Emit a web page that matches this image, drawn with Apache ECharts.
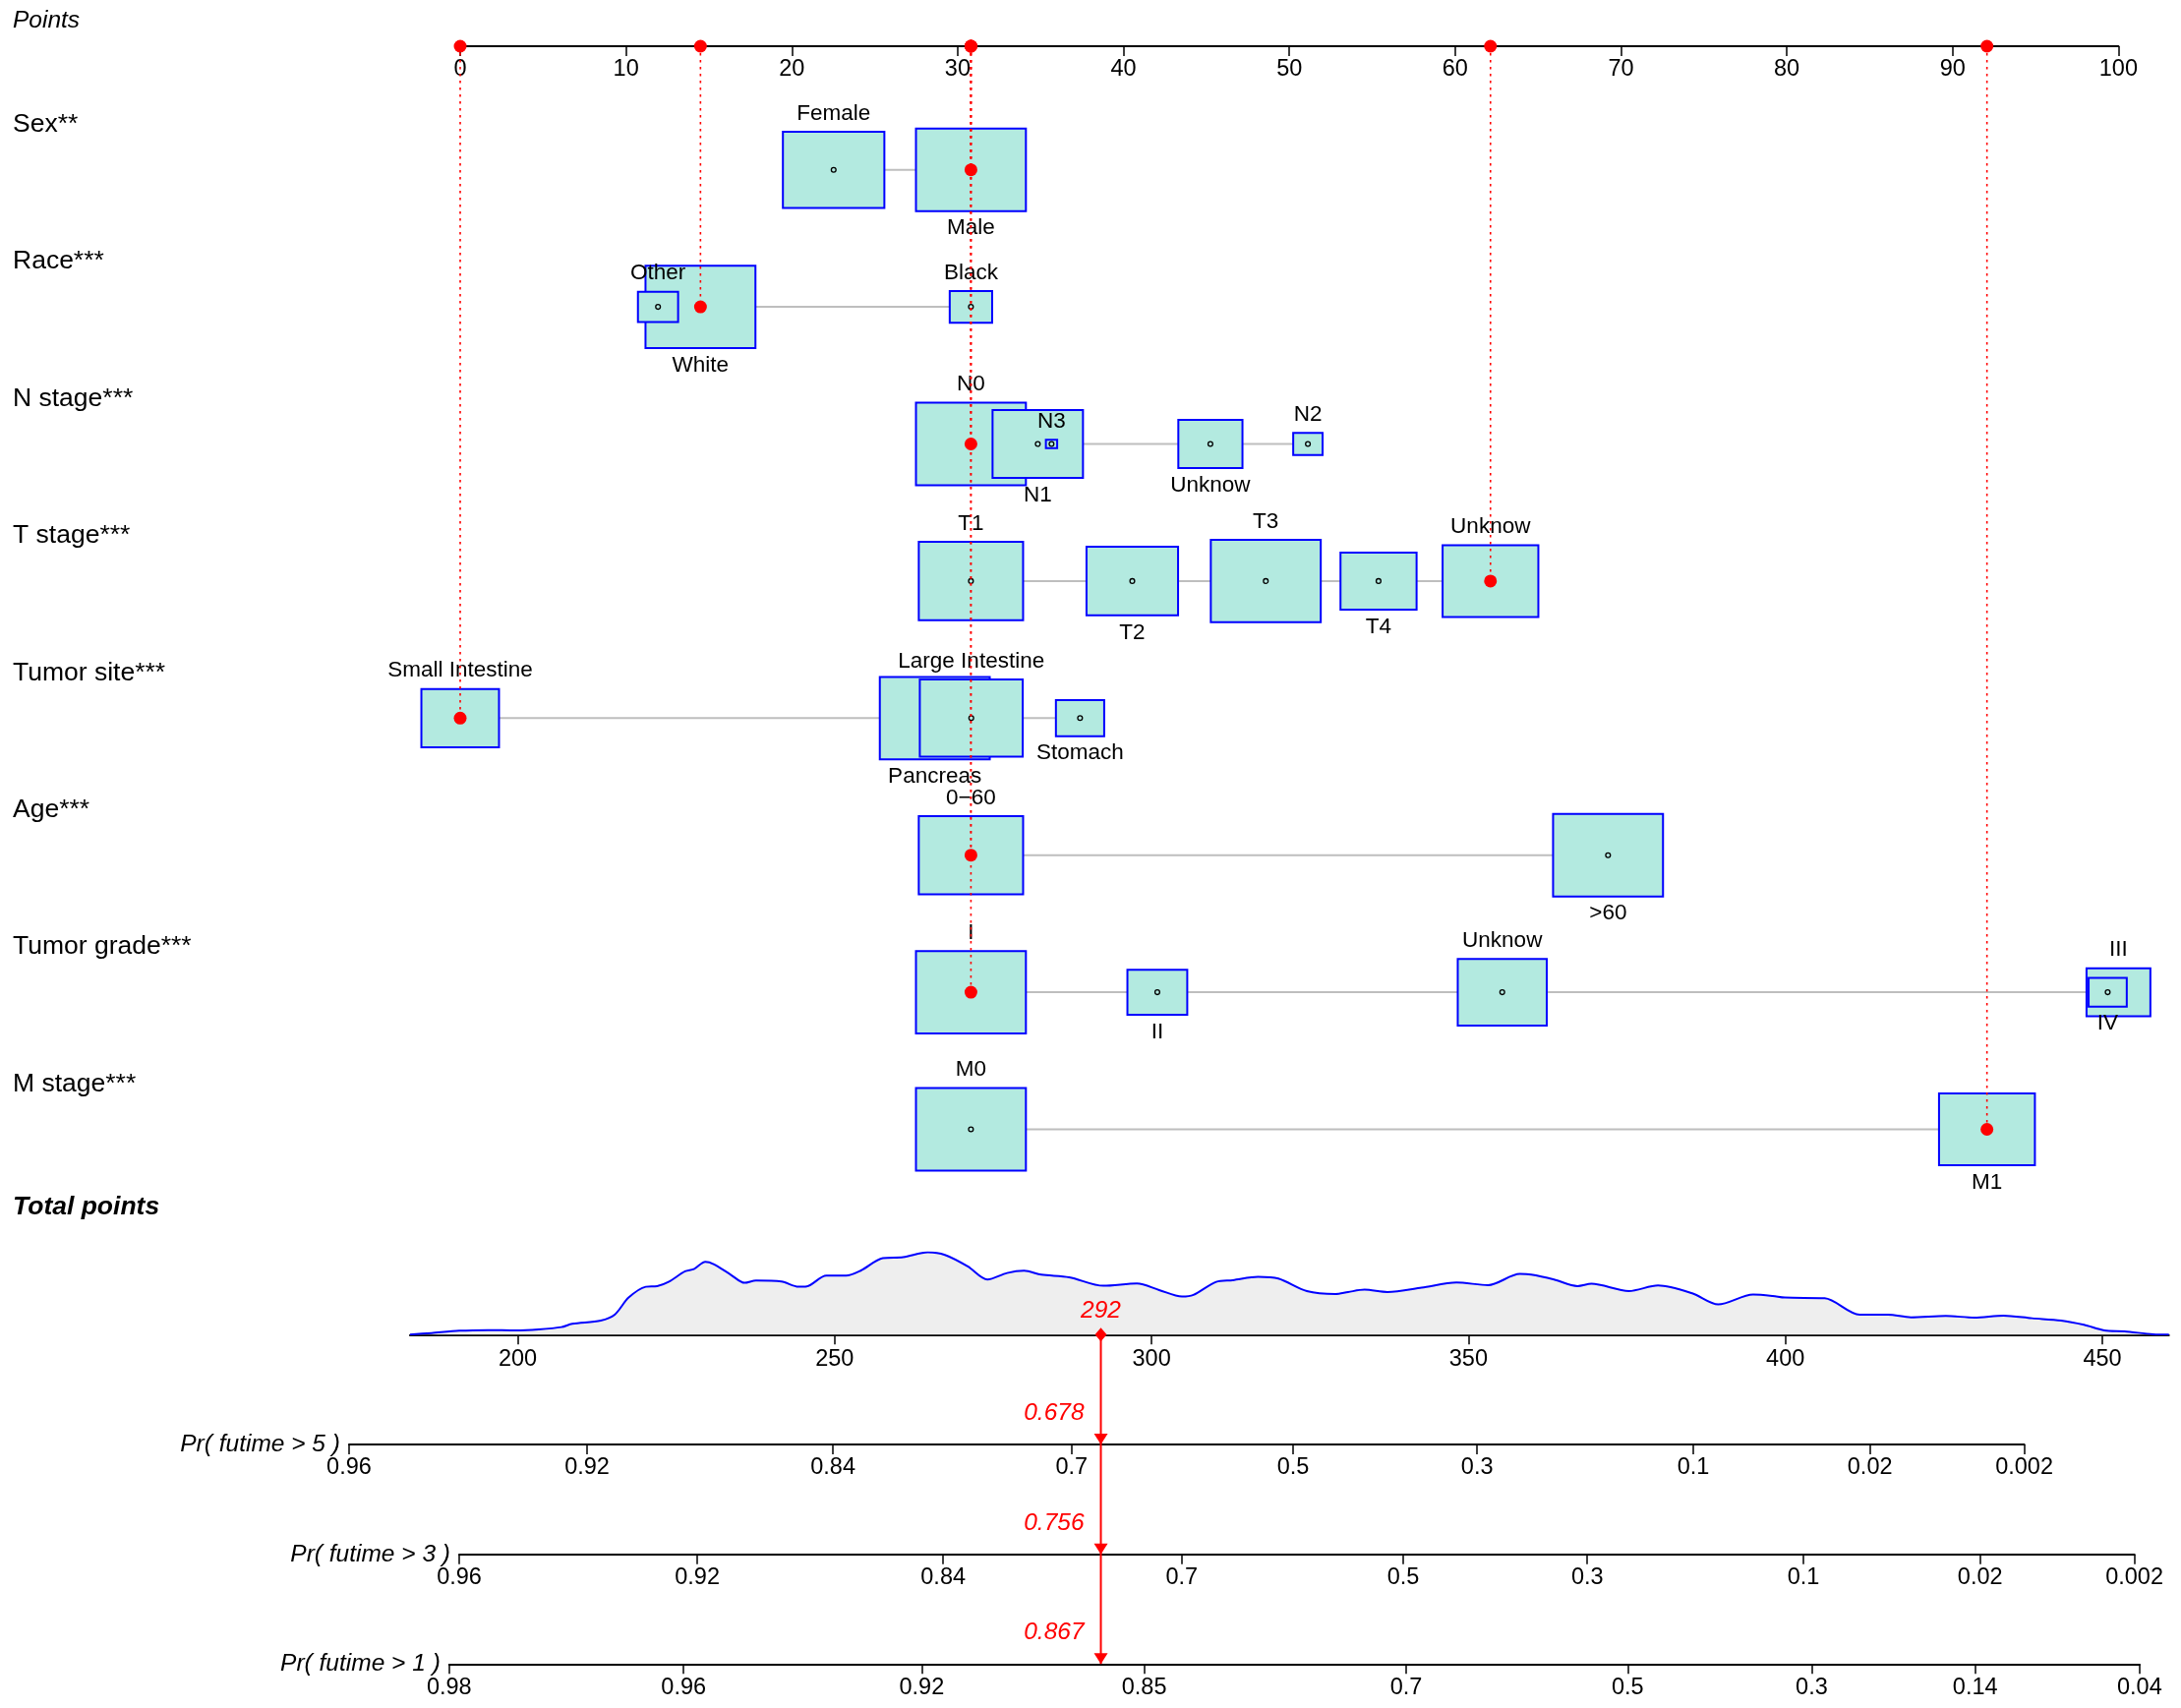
<!DOCTYPE html>
<html><head><meta charset="utf-8">
<script src="https://cdn.jsdelivr.net/npm/echarts@6/dist/echarts.min.js"></script>
<style>html,body{margin:0;padding:0;background:#fff}#c{width:2218px;height:1737px}</style>
</head><body><div id="c"></div>
<script>
// ---------------- DATA ----------------
const variableNames = ['Sex**','Race***','N stage***','T stage***','Tumor site***','Age***','Tumor grade***','M stage***'];
// levels listed in drawing order; points on the 0-100 scale; share = % of patients in the level
const sexLevels = ['Female','Male'];
const sexPoints = [22.52, 30.80];
const sexShare = [46, 54];
const raceLevels = ['White','Black','Other'];
const racePoints = [14.49, 30.80, 11.93];
const raceShare = [77.9, 11.6, 10.4];
const nLevels = ['N0','N1','N2','N3','Unknow'];
const nPoints = [30.80, 34.83, 51.12, 35.66, 45.24];
const nShare = [47.6, 32.2, 3.4, 0.5, 16.2];
const tLevels = ['T1','T2','T3','T4','Unknow'];
const tPoints = [30.80, 40.53, 48.58, 55.38, 62.13];
const tShare = [23.5, 18.1, 26.1, 12.5, 19.8];
const siteLevels = ['Small Intestine','Pancreas','Large Intestine','Stomach'];
const sitePoints = [0, 28.62, 30.82, 37.38];
const siteShare = [19.4, 38.9, 34.1, 7.5];
const ageLevels = ['0\u221260','>60'];
const agePoints = [30.80, 69.22];
const ageShare = [47.4, 52.6];
const gradeLevels = ['I','II','III','IV','Unknow'];
const gradePoints = [30.80, 42.04, 100.0, 99.35, 62.84];
const gradeShare = [41.5, 12.3, 14.0, 5.0, 27.2];
const mLevels = ['M0','M1'];
const mPoints = [30.80, 92.07];
const mShare = [56.8, 43.2];

const patientLevels = ['Male','White','N0','Unknow','Small Intestine','0\u221260','I','M1'];
const patientTotal = 292;
const patientProbs = [0.678, 0.756, 0.867];

const pointsTicks = [0,10,20,30,40,50,60,70,80,90,100];
const totalTicks = [200,250,300,350,400,450];

const densityTotal = [183.0,186.4,190.8,195.3,199.7,203.3,206.9,208.6,213.1,215.3,217.5,220.2,222.0,223.8,226.4,227.8,229.6,230.9,233.6,235.8,237.6,241.6,244.3,245.6,248.7,251.8,254.1,257.6,260.8,264.7,267.4,271.0,274.1,277.2,279.9,282.6,287.0,292.4,297.7,301.2,304.8,306.6,310.2,312.8,316.8,320.0,324.5,329.0,331.0,333.6,337.2,342.6,348.1,353.1,358.1,359.9,363.5,367.2,369.4,375.3,379.9,385.3,389.4,394.9,398.0,399.9,406.2,411.7,416.2,419.8,425.3,429.8,434.4,438.9,443.5,447.1,450.3,453.5,458.0,460.5];
const densityHeight = [0,5,12,14,13,16,23,33,43,61,113,146,148,161,193,200,222,215,183,158,165,162,146,147,180,180,195,233,236,251,243,208,168,188,195,183,175,149,156,136,116,121,161,166,176,171,133,124,130,137,130,143,159,151,185,183,168,148,155,133,150,126,92,122,118,113,111,61,61,53,57,52,58,50,43,30,13,10,1,0];

const horizonNames = ['Pr( futime > 5 )','Pr( futime > 3 )','Pr( futime > 1 )'];
const pr5Ticks = [0.96,0.92,0.84,0.7,0.5,0.3,0.1,0.02,0.002];
const pr3Ticks = [0.96,0.92,0.84,0.7,0.5,0.3,0.1,0.02,0.002];
const pr1Ticks = [0.98,0.96,0.92,0.85,0.7,0.5,0.3,0.14,0.04];
// survival scale: log(-log S) = intercept + slope * totalPoints
const survSlope = 0.019015;
const survIntercepts = [-6.4955, -6.826, -7.4993];

// ---------------- LAYOUT ----------------
const FONT = '"Liberation Sans", Arial, Helvetica, sans-serif';
const PTS_LEFT = 468, PTS_RIGHT = 2154.4;
const PTS_AXIS_Y = 47;
const ROW0_Y = 172.7, ROW_STEP = 139.4;
const TP_REF = 200, TP_REF_PX = 526.5, TP_SCALE = 6.446;
function tpPx(tp){ return TP_REF_PX + (tp - TP_REF) * TP_SCALE; }
const TOTAL_MIN = 183, TOTAL_MAX = 460.5;
const TOTAL_AXIS_Y = 1357.3;
const DENS_H = 83.7;
const PROB_AXIS_Y = [1469, 1580.7, 1692.3];
const BOX_MAX = 111.8, BOX_ASPECT = 0.75;
const BOX_FILL = '#b3eae0', BOX_STROKE = '#0000ff';

const variables = [
  [sexLevels, sexPoints, sexShare],
  [raceLevels, racePoints, raceShare],
  [nLevels, nPoints, nShare],
  [tLevels, tPoints, tShare],
  [siteLevels, sitePoints, siteShare],
  [ageLevels, agePoints, ageShare],
  [gradeLevels, gradePoints, gradeShare],
  [mLevels, mPoints, mShare]
];

const lineData = [], boxData = [], labelData = [], labelInfo = [], redData = [];
variables.forEach(([lv, pt, sh], vi) => {
  const row = vi + 1;
  const mx = Math.max(...sh);
  lineData.push([Math.min(...pt), Math.max(...pt), row]);
  lv.forEach((name, i) => boxData.push([pt[i], row, sh[i], mx]));
  const order = pt.map((p, i) => i).sort((a, b) => pt[a] - pt[b]);
  order.forEach((i, k) => {
    labelData.push([pt[i], row, sh[i], mx]);
    labelInfo.push({text: lv[i], above: k % 2 === 0});
  });
  const pi = lv.indexOf(patientLevels[vi]);
  redData.push([pt[pi], row]);
});

function boxW(share, mx){ return BOX_MAX * Math.sqrt(share / mx); }

// ---------------- AXES ----------------
const grids = [], xAxes = [], yAxes = [];
const axisLineStyle = {color: '#000', width: 2};
// 0: points axis
grids.push({left: PTS_LEFT, width: PTS_RIGHT - PTS_LEFT, top: PTS_AXIS_Y - 1, height: 1, outerBoundsMode: 'none'});
xAxes.push({gridIndex: 0, type: 'value', min: 0, max: 100, position: 'bottom',
  axisLine: {show: true, lineStyle: axisLineStyle},
  axisTick: {show: true, length: 10, lineStyle: {color: '#000', width: 1.5}, customValues: pointsTicks},
  axisLabel: {show: true, customValues: pointsTicks, margin: 12, fontSize: 23.5, fontFamily: FONT, color: '#000', hideOverlap: false},
  splitLine: {show: false}});
yAxes.push({gridIndex: 0, type: 'value', show: false});
// 1: rows
grids.push({left: PTS_LEFT, width: PTS_RIGHT - PTS_LEFT, top: ROW0_Y - 0.5 * ROW_STEP, height: 8 * ROW_STEP, outerBoundsMode: 'none'});
xAxes.push({gridIndex: 1, type: 'value', min: 0, max: 100, show: false});
yAxes.push({gridIndex: 1, type: 'value', min: 0.5, max: 8.5, inverse: true, show: false});
// 2: total points
grids.push({left: tpPx(TOTAL_MIN), width: tpPx(TOTAL_MAX) - tpPx(TOTAL_MIN), top: TOTAL_AXIS_Y - DENS_H, height: DENS_H, outerBoundsMode: 'none'});
xAxes.push({gridIndex: 2, type: 'value', min: TOTAL_MIN, max: TOTAL_MAX, position: 'bottom',
  axisLine: {show: true, onZero: false, lineStyle: axisLineStyle},
  axisTick: {show: true, length: 10, lineStyle: {color: '#000', width: 1.5}, customValues: totalTicks},
  axisLabel: {show: true, customValues: totalTicks, margin: 13, fontSize: 23.5, fontFamily: FONT, color: '#000', hideOverlap: false},
  splitLine: {show: false}});
yAxes.push({gridIndex: 2, type: 'value', min: 0, max: 251, show: false});
// 3-5: probability axes
const probTicks = [pr5Ticks, pr3Ticks, pr1Ticks];
probTicks.forEach((ticks, h) => {
  const tps = ticks.map(p => (Math.log(-Math.log(p)) - survIntercepts[h]) / survSlope);
  const lo = tps[0], hi = tps[tps.length - 1];
  grids.push({left: tpPx(lo), width: tpPx(hi) - tpPx(lo), top: PROB_AXIS_Y[h] - 1, height: 1, outerBoundsMode: 'none'});
  xAxes.push({gridIndex: 3 + h, type: 'value', min: lo, max: hi, position: 'bottom',
    name: horizonNames[h], nameLocation: 'start', nameGap: 9, nameMoveOverlap: false,
    nameTextStyle: {fontSize: 24.5, fontStyle: 'italic', fontFamily: FONT, color: '#000', verticalAlign: 'middle', align: 'right'},
    axisLine: {show: true, onZero: false, lineStyle: axisLineStyle},
    axisTick: {show: true, length: 10, lineStyle: {color: '#000', width: 1.5}, customValues: tps},
    axisLabel: {show: true, customValues: tps, margin: 12, fontSize: 23.5, fontFamily: FONT, color: '#000', hideOverlap: false,
      formatter: v => {
        let bi = 0, bd = Infinity;
        tps.forEach((t, i) => { const d = Math.abs(t - v); if (d < bd) { bd = d; bi = i; } });
        return String(ticks[bi]);
      }},
    splitLine: {show: false}});
  yAxes.push({gridIndex: 3 + h, type: 'value', show: false});
});

// ---------------- SERIES ----------------
const series = [];
series.push({type: 'custom', coordinateSystem: 'cartesian2d', xAxisIndex: 1, yAxisIndex: 1, z: 1, clip: false,
  data: lineData, silent: true,
  renderItem: (p, api) => {
    const a = api.coord([api.value(0), api.value(2)]);
    const b = api.coord([api.value(1), api.value(2)]);
    return {type: 'line', shape: {x1: a[0], y1: a[1], x2: b[0], y2: b[1]}, style: {stroke: '#bebebe', lineWidth: 2}};
  }});
series.push({type: 'custom', coordinateSystem: 'cartesian2d', xAxisIndex: 1, yAxisIndex: 1, z: 2, clip: false,
  data: boxData, silent: true,
  renderItem: (p, api) => {
    const c = api.coord([api.value(0), api.value(1)]);
    const w = boxW(api.value(2), api.value(3)), h = w * BOX_ASPECT;
    return {type: 'group', children: [
      {type: 'rect', shape: {x: c[0] - w / 2, y: c[1] - h / 2, width: w, height: h}, style: {fill: BOX_FILL, stroke: BOX_STROKE, lineWidth: 2}},
      {type: 'circle', shape: {cx: c[0], cy: c[1], r: 2.4}, style: {fill: 'none', stroke: '#000', lineWidth: 1.3}}
    ]};
  }});
series.push({type: 'custom', coordinateSystem: 'cartesian2d', xAxisIndex: 1, yAxisIndex: 1, z: 3, clip: false,
  data: labelData, silent: true,
  renderItem: (p, api) => {
    const info = labelInfo[p.dataIndex];
    const c = api.coord([api.value(0), api.value(1)]);
    const w = boxW(api.value(2), api.value(3)), h = w * BOX_ASPECT;
    return {type: 'text', style: {text: info.text, x: c[0], y: info.above ? c[1] - h / 2 - 7 : c[1] + h / 2 + 6,
      align: 'center', verticalAlign: info.above ? 'bottom' : 'top', fontSize: 22.5, fontFamily: FONT, fill: '#000'}};
  }});
series.push({type: 'custom', coordinateSystem: 'cartesian2d', xAxisIndex: 1, yAxisIndex: 1, z: 3, clip: false,
  data: variableNames.map((n, i) => [0, i + 1]), silent: true,
  renderItem: (p, api) => {
    const c = api.coord([0, api.value(1)]);
    return {type: 'text', style: {text: variableNames[p.dataIndex], x: 13, y: c[1] - 46, align: 'left', verticalAlign: 'middle',
      fontSize: 26.5, fontFamily: FONT, fill: '#000'}};
  }});
series.push({type: 'custom', coordinateSystem: 'cartesian2d', xAxisIndex: 1, yAxisIndex: 1, z: 5, clip: false,
  data: redData, silent: true,
  renderItem: (p, api) => {
    const c = api.coord([api.value(0), api.value(1)]);
    return {type: 'group', children: [
      {type: 'line', shape: {x1: c[0], y1: PTS_AXIS_Y, x2: c[0], y2: c[1]}, style: {stroke: '#ff0000', lineWidth: 1.6, lineDash: [2.5, 4.5]}},
      {type: 'circle', shape: {cx: c[0], cy: c[1], r: 6.5}, style: {fill: '#ff0000'}},
      {type: 'circle', shape: {cx: c[0], cy: PTS_AXIS_Y, r: 6.5}, style: {fill: '#ff0000'}}
    ]};
  }});
series.push({type: 'line', xAxisIndex: 2, yAxisIndex: 2, z: 2, silent: true,
  data: densityTotal.map((t, i) => [t, densityHeight[i]]),
  smooth: 0.3, showSymbol: false, symbol: 'none',
  lineStyle: {color: '#0000ff', width: 2},
  areaStyle: {color: '#eeeeee', opacity: 1, origin: 'start'}});
series.push({type: 'custom', coordinateSystem: 'cartesian2d', xAxisIndex: 2, yAxisIndex: 2, z: 6, clip: false,
  data: [[patientTotal, 0]], silent: true,
  renderItem: (p, api) => {
    const c = api.coord([api.value(0), 0]);
    const x = c[0], y0 = c[1];
    const ch = [
      {type: 'line', shape: {x1: x, y1: y0, x2: x, y2: PROB_AXIS_Y[2]}, style: {stroke: '#ff0000', lineWidth: 2}},
      {type: 'polygon', shape: {points: [[x, y0 - 7], [x + 6, y0], [x, y0 + 7], [x - 6, y0]]}, style: {fill: '#ff0000'}},
      {type: 'text', style: {text: String(patientTotal), x: x, y: y0 - 24, align: 'center', verticalAlign: 'middle',
        fontSize: 24.5, fontStyle: 'italic', fontFamily: FONT, fill: '#ff0000'}}
    ];
    PROB_AXIS_Y.forEach((ay, h) => {
      ch.push({type: 'polygon', shape: {points: [[x - 7, ay - 11], [x + 7, ay - 11], [x, ay]]}, style: {fill: '#ff0000'}});
      ch.push({type: 'text', style: {text: patientProbs[h].toFixed(3), x: x - 17, y: ay - 32, align: 'right', verticalAlign: 'middle',
        fontSize: 24.5, fontStyle: 'italic', fontFamily: FONT, fill: '#ff0000'}});
    });
    return {type: 'group', children: ch};
  }});

const chart = echarts.init(document.getElementById('c'), null, {renderer: 'canvas'});
chart.setOption({
  animation: false,
  backgroundColor: '#ffffff',
  grid: grids, xAxis: xAxes, yAxis: yAxes, series: series,
  graphic: [
    {type: 'text', x: 13, y: 21, style: {text: 'Points', fontSize: 24.5, fontStyle: 'italic', fontFamily: FONT, fill: '#000', verticalAlign: 'middle'}},
    {type: 'text', x: 13, y: 1228, style: {text: 'Total points', fontSize: 26.5, fontStyle: 'italic', fontWeight: 'bold', fontFamily: FONT, fill: '#000', verticalAlign: 'middle'}}
  ]
});
</script></body></html>
